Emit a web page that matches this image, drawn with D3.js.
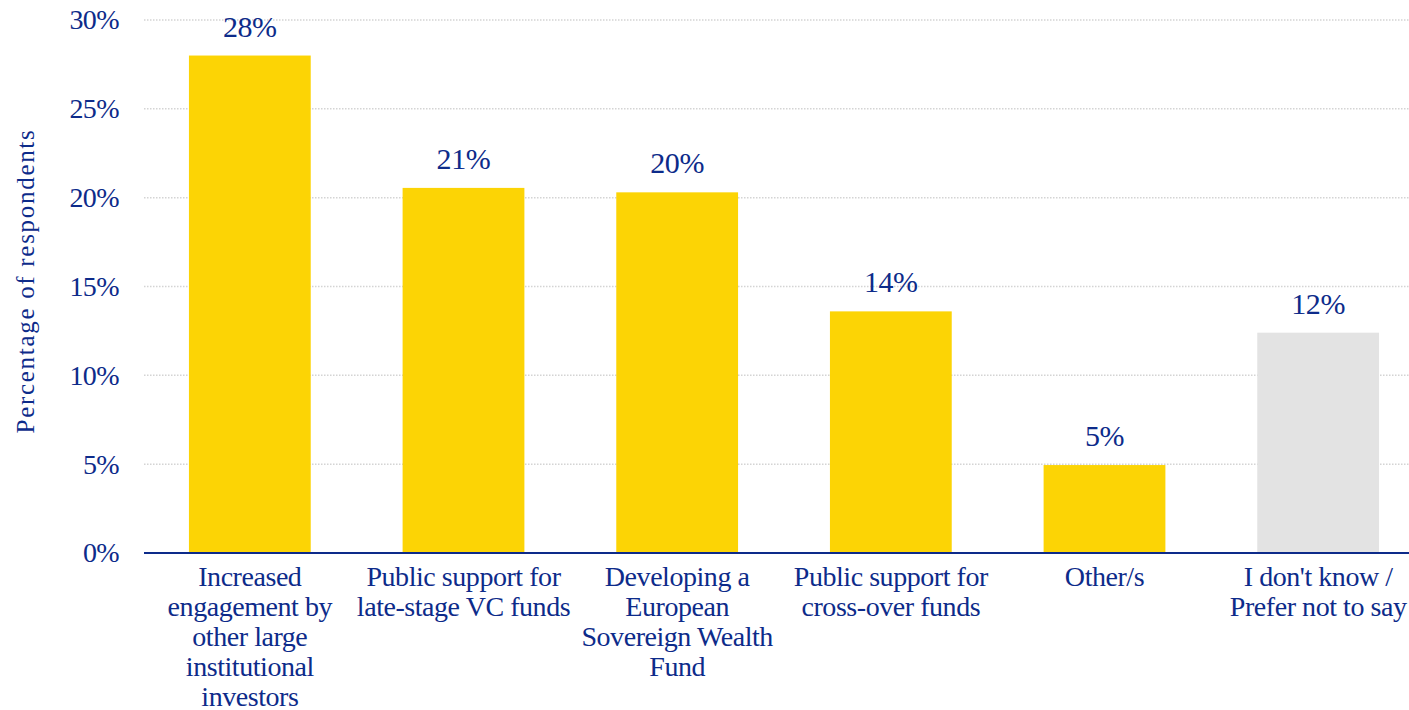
<!DOCTYPE html>
<html><head><meta charset="utf-8">
<script src="https://cdn.jsdelivr.net/npm/d3@7"></script>
<style>body{margin:0;background:#fff}svg{display:block}</style>
</head><body>
<svg id="c" width="1409" height="710"></svg>
<script>
const categories = [
  ["Increased","engagement by","other large","institutional","investors"],
  ["Public support for","late-stage VC funds"],
  ["Developing a","European","Sovereign Wealth","Fund"],
  ["Public support for","cross-over funds"],
  ["Other/s"],
  ["I don't know /","Prefer not to say"]
];
const values = [28.0, 20.55, 20.3, 13.6, 4.95, 12.4];
const valueLabels = ["28%","21%","20%","14%","5%","12%"];
const barColors = ["#FCD405","#FCD405","#FCD405","#FCD405","#FCD405","#E3E3E3"];
const yTicks = [0,5,10,15,20,25,30];
const yTitle = "Percentage of respondents";

const navy = "#0d2b8a";
const font = "'Liberation Serif', 'Times New Roman', serif";
const svg = d3.select("#c");
const ids = d3.range(values.length);
const x = d3.scaleBand().domain(ids).range([143, 1425]).paddingInner(0.43).paddingOuter(0.215);
const y = d3.scaleLinear().domain([0,30]).range([553, 20]);

// gridlines
svg.append("g").selectAll("line").data(yTicks.filter(t=>t>0)).join("line")
  .attr("x1",144).attr("x2",1409).attr("y1",d=>y(d)).attr("y2",d=>y(d))
  .attr("stroke","#d4d4d4").attr("stroke-width",1.5).attr("stroke-dasharray","1.5,1.5");

// y axis labels
const yAxis = d3.axisLeft(y).tickValues(yTicks).tickFormat(d=>d+"%").tickSize(0).tickPadding(0);
const ga = svg.append("g").attr("transform","translate(119,0)").call(yAxis);
ga.select(".domain").remove();
ga.selectAll("text").attr("font-family",font).attr("font-size",28).attr("letter-spacing","-0.6px").attr("fill",navy);

// bars
svg.append("g").selectAll("rect").data(ids).join("rect")
  .attr("x",i=>x(i)).attr("width",x.bandwidth())
  .attr("y",i=>y(values[i])).attr("height",i=>y(0)-y(values[i]))
  .attr("fill",i=>barColors[i]);

// value labels
svg.append("g").selectAll("text").data(ids).join("text")
  .attr("x",i=>x(i)+x.bandwidth()/2).attr("y",i=>y(values[i])-19)
  .attr("text-anchor","middle").attr("font-family",font).attr("font-size",30).attr("letter-spacing","-0.4px").attr("fill",navy)
  .text(i=>valueLabels[i]);

// x axis
const xAxis = d3.axisBottom(x).tickSize(0).tickFormat("");
const gx = svg.append("g").attr("transform","translate(0,553)").call(xAxis);
gx.select(".domain").attr("d","M144,0H1409").attr("stroke",navy).attr("stroke-width",2);

// category labels
const cl = svg.append("g").selectAll("text").data(ids).join("text")
  .attr("text-anchor","middle").attr("font-family",font).attr("font-size",28).attr("letter-spacing","-0.45px").attr("fill",navy);
cl.each(function(i){
  const t = d3.select(this);
  categories[i].forEach((line,k)=>{
    t.append("tspan").attr("x",x(i)+x.bandwidth()/2).attr("y",586+k*30).text(line);
  });
});

// y title
svg.append("text").attr("transform","translate(34,281) rotate(-90)")
  .attr("text-anchor","middle").attr("font-family",font).attr("font-size",25).attr("letter-spacing","1.7px").attr("fill",navy)
  .text(yTitle);
</script>
</body></html>
